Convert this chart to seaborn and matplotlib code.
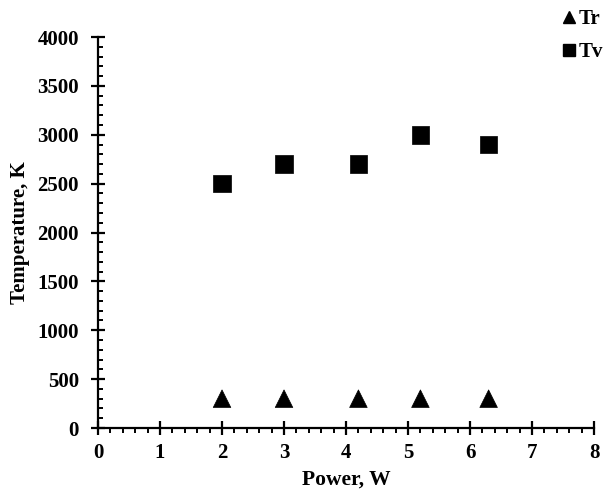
import matplotlib
matplotlib.use("Agg")
import matplotlib.pyplot as plt
import seaborn as sns
import pandas as pd
from matplotlib.ticker import MultipleLocator
from matplotlib.lines import Line2D

power = [2, 3, 4.2, 5.2, 6.3]
tr = [300, 300, 300, 300, 300]
tv = [2500, 2700, 2700, 3000, 2900]

df = pd.DataFrame({
    "Power": power * 2,
    "Temperature": tr + tv,
    "Series": ["Tr"] * len(power) + ["Tv"] * len(power),
})

sns.set_theme(style="ticks")
plt.rcParams["font.family"] = ["Liberation Serif", "DejaVu Serif"]
plt.rcParams["font.weight"] = "bold"
plt.rcParams["text.color"] = "black"
plt.rcParams["axes.labelcolor"] = "black"
plt.rcParams["xtick.color"] = "black"
plt.rcParams["ytick.color"] = "black"

fig = plt.figure(figsize=(6.1, 4.94), dpi=100)
ax = fig.add_axes([0.1607, 0.1336, 0.8131, 0.7914])

sns.scatterplot(data=df, x="Power", y="Temperature", style="Series", hue="Series",
                palette={"Tr": "black", "Tv": "black"},
                markers={"Tr": "^", "Tv": "s"}, s=160, edgecolor="black",
                linewidth=0.5, ax=ax, legend=False, clip_on=False, zorder=3)

ax.set_xlim(0, 8)
ax.set_ylim(0, 4000)
ax.xaxis.set_major_locator(MultipleLocator(1))
ax.xaxis.set_minor_locator(MultipleLocator(0.2))
ax.yaxis.set_major_locator(MultipleLocator(500))
ax.yaxis.set_minor_locator(MultipleLocator(100))
sns.despine(ax=ax)
for sp in ["left", "bottom"]:
    ax.spines[sp].set_linewidth(1.6)
    ax.spines[sp].set_color("black")
ax.tick_params(axis="both", which="major", direction="inout", length=9.5, width=1.6,
               labelsize=15, colors="black")
ax.tick_params(axis="x", which="major", pad=6)
ax.tick_params(axis="y", which="major", pad=9)
ax.tick_params(axis="x", which="minor", direction="out", length=3.5, width=1.4, colors="black")
ax.tick_params(axis="y", which="minor", direction="in", length=3.5, width=1.4, colors="black")
for lab in ax.get_xticklabels() + ax.get_yticklabels():
    lab.set_fontweight("bold")
ax.set_xlabel("Power, W", fontsize=15.5, fontweight="bold", labelpad=5, color="black")
ax.set_ylabel("Temperature, K", fontsize=15, fontweight="bold", labelpad=5, color="black")

handles = [Line2D([], [], marker="^", color="black", linestyle="none", markersize=9),
           Line2D([], [], marker="s", color="black", linestyle="none", markersize=9)]
fig.legend(handles, ["Tr", "Tv"], loc="upper right", bbox_to_anchor=(1.02, 1.02),
           frameon=False, prop={"family": "Liberation Serif", "weight": "bold", "size": 15},
           labelcolor="black",
           handlelength=0.5, handletextpad=0.25, labelspacing=0.65)

fig.savefig("out.png", dpi=100)
